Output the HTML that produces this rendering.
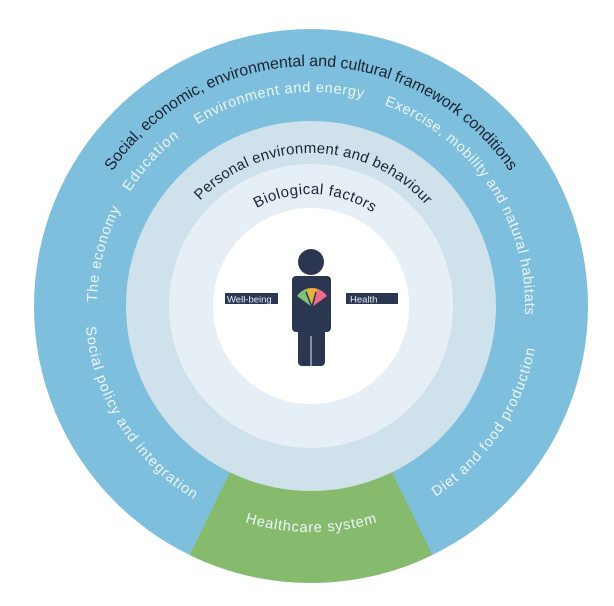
<!DOCTYPE html>
<html><head><meta charset="utf-8"><style>
html,body{margin:0;padding:0;background:#fff;width:614px;height:606px;overflow:hidden}
svg{display:block}
text{font-family:"Liberation Sans",sans-serif}
</style></head><body>
<svg width="614" height="606" viewBox="0 0 614 606" xmlns="http://www.w3.org/2000/svg">
<defs>
<path id="cw240" d="M311,546 A240,240 0 1 1 311,66 A240,240 0 1 1 311,546"/>
<path id="cw214" d="M311,520 A214,214 0 1 1 311,92 A214,214 0 1 1 311,520"/>
<path id="cw153" d="M311,459 A153,153 0 1 1 311,153 A153,153 0 1 1 311,459"/>
<path id="cw112" d="M311,418 A112,112 0 1 1 311,194 A112,112 0 1 1 311,418"/>
<path id="ccw226" d="M311,80 A226,226 0 1 0 311,532 A226,226 0 1 0 311,80"/>
<path id="ccw228" d="M311,78 A228,228 0 1 0 311,534 A228,228 0 1 0 311,78"/>
</defs>
<circle cx="311" cy="306" r="277" fill="#7dbfdc"/>
<path d="M311,306 L189.6,555 A277,277 0 0 0 432.4,555 Z" fill="#86bb6e"/>
<circle cx="311" cy="306" r="185" fill="#cfe2ec"/>
<circle cx="311" cy="306" r="142" fill="#e5eff5"/>
<circle cx="311" cy="306" r="98" fill="#ffffff"/>

<text font-size="16" fill="#1c2333"><textPath href="#cw240" startOffset="50%" text-anchor="middle" textLength="468" lengthAdjust="spacing">Social, economic, environmental and cultural framework conditions</textPath></text>
<g font-size="14.5" fill="#eef6fa">
<text><textPath href="#cw214" startOffset="47.5%" text-anchor="middle" textLength="172" lengthAdjust="spacing">Environment and energy</textPath></text>
<text><textPath href="#cw214" startOffset="36.7%" text-anchor="middle" textLength="74" lengthAdjust="spacing">Education</textPath></text>
<text><textPath href="#cw214" startOffset="28.9%" text-anchor="middle" textLength="97" lengthAdjust="spacing">The economy</textPath></text>
<text><textPath href="#cw214" startOffset="65.6%" text-anchor="middle" textLength="270" lengthAdjust="spacing">Exercise, mobility and natural habitats</textPath></text>
<text><textPath href="#ccw226" startOffset="33.9%" text-anchor="middle" textLength="211" lengthAdjust="spacing">Social policy and integration</textPath></text>
<text><textPath href="#ccw228" startOffset="65.6%" text-anchor="middle" textLength="183" lengthAdjust="spacing">Diet and food production</textPath></text>
<text><textPath href="#ccw226" startOffset="50%" text-anchor="middle" textLength="134" lengthAdjust="spacing">Healthcare system</textPath></text>
</g>
<text font-size="15" fill="#1c2333"><textPath href="#cw153" startOffset="50.3%" text-anchor="middle" textLength="254" lengthAdjust="spacing">Personal environment and behaviour</textPath></text>
<text font-size="15" fill="#1c2333"><textPath href="#cw112" startOffset="50.6%" text-anchor="middle" textLength="122" lengthAdjust="spacing">Biological factors</textPath></text>

<g fill="#2b3650">
<circle cx="311" cy="262" r="13"/>
<rect x="292" y="276" width="39" height="56" rx="4"/>
<rect x="298" y="320" width="27" height="46" rx="4"/>
<rect x="225" y="293" width="53" height="11"/>
<rect x="346" y="293" width="52" height="11"/>
</g>
<line x1="311" y1="336" x2="311" y2="366" stroke="#e5eff5" stroke-width="1"/>
<text x="227" y="302.5" font-size="9.5" fill="#e8eef5">Well-being</text>
<text x="350" y="302.5" font-size="9.5" fill="#e8eef5">Health</text>
<path d="M312,307 L297,296 A18,18 0 0 1 306,289 Z" fill="#7cc27a"/>
<path d="M312,307 L306,289 A18,18 0 0 1 318,289 Z" fill="#e8b040"/>
<path d="M312,307 L318,289 A18,18 0 0 1 327,296 Z" fill="#ee6a8c"/>
<line x1="312" y1="307" x2="306" y2="292" stroke="#2b3650" stroke-width="1.5"/>
<line x1="312" y1="307" x2="316" y2="292" stroke="#2b3650" stroke-width="1.5"/>
</svg>
</body></html>
